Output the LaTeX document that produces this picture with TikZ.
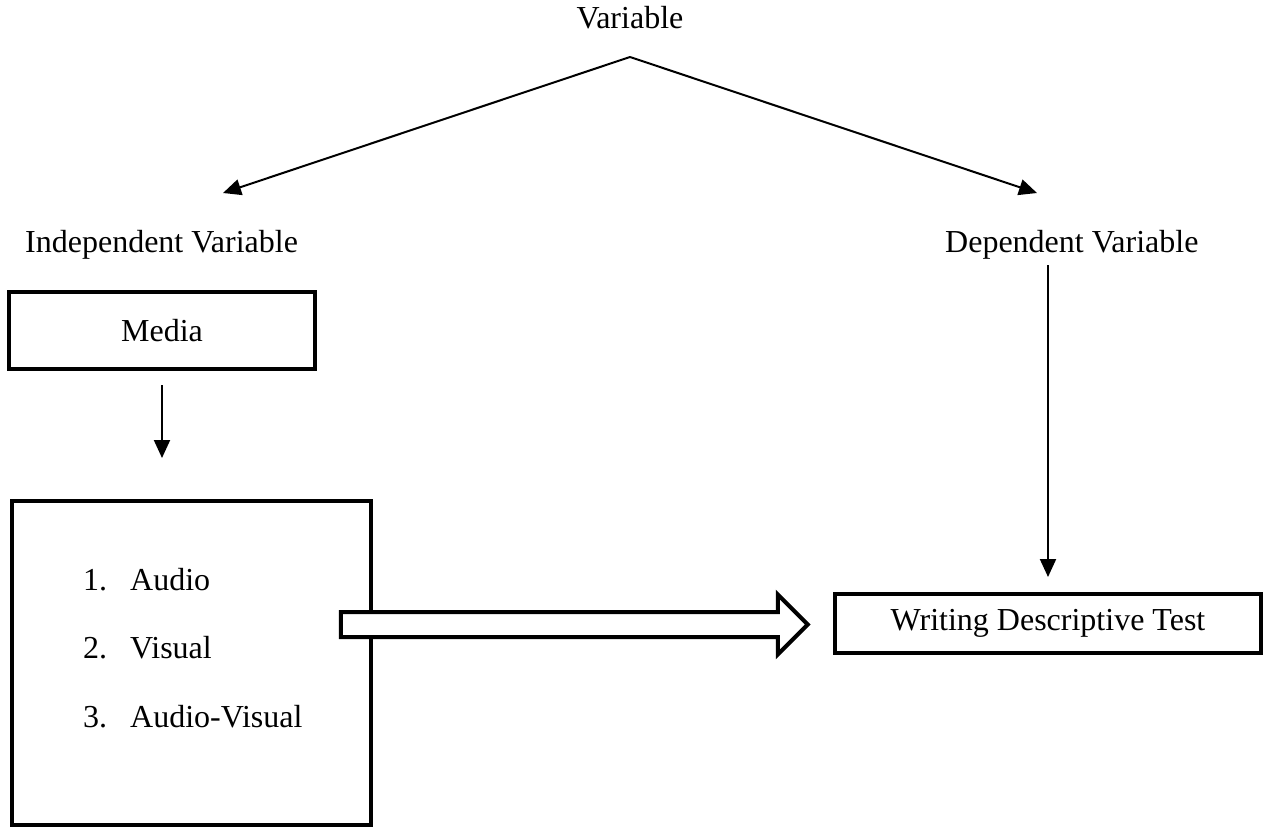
\documentclass[tikz,border=0pt]{standalone}
\usepackage{fontspec}
\setmainfont{Liberation Serif}
\usepackage{tikz}
\usetikzlibrary{shapes.arrows, arrows.meta}
\tikzset{
    box/.style={rectangle, draw, line width=4pt, fill=white, align=center, inner sep=0pt},
    label/.style={anchor=base west, inner sep=0pt},
    arrow/.style={line width=2pt, -{Triangle[length=18pt, width=16pt]}},
    hollow/.style={single arrow, draw, line width=4pt, fill=white, inner xsep=0pt, inner ysep=10.5pt,
        single arrow head extend=17.5pt, single arrow tip angle=90, minimum width=56pt}
}

\begin{document}
\begin{tikzpicture}[x=1pt, y=-1pt, font=\fontsize{32}{38}\selectfont]

    \useasboundingbox (0,0) rectangle (1264,831);

    % Headings
    \node (var) [anchor=base] at (630,28) {Variable};
    \node (indep) [label] at (25,252) {Independent Variable};
    \node (dep) [label] at (945,252) {Dependent Variable};
    \coordinate (apex) at (630,57);
    \coordinate (lefttip) at (223,193);
    \coordinate (righttip) at (1037,193);

    % Boxes
    \node (media) [box, minimum width=306pt, minimum height=77pt] at (162,330.5) {Media};
    \node (list) [box, minimum width=359pt, minimum height=324pt] at (191.5,663) {};
    \node (test) [box, minimum width=426pt, minimum height=59pt] at (1048,623.5) {Writing Descriptive Test};

    % Media items
    \node (item1) [label] at (83,590) {\makebox[47pt][l]{1.}Audio};
    \node (item2) [label] at (83,658) {\makebox[47pt][l]{2.}Visual};
    \node (item3) [label] at (83,727) {\makebox[47pt][l]{3.}Audio-Visual};

    % Arrows
    \draw [arrow] (apex) -- (lefttip);
    \draw [arrow] (apex) -- (righttip);
    \draw [arrow, shorten <=14pt, shorten >=41pt] (media.south) -- (media.south |- list.north);
    \draw [arrow, shorten <=6pt, shorten >=15pt] (test.north |- dep.south) -- (test.north);
    \node (flow) [hollow, minimum height=467pt] at (568,624.5) {};

\end{tikzpicture}
\end{document}
